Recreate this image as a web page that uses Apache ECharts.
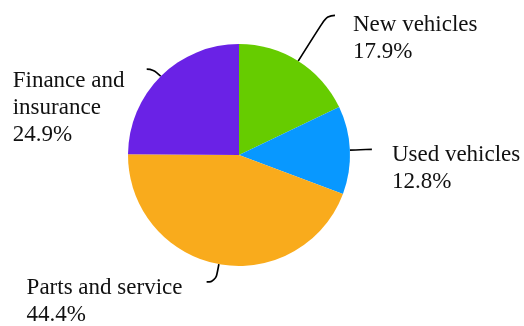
<!DOCTYPE html>
<html>
<head>
    <meta charset="utf-8">
    <script src="https://cdn.jsdelivr.net/npm/echarts@6/dist/echarts.min.js"></script>
    <style>
        html, body { margin: 0; padding: 0; background: #fff; }
        #main { width: 524px; height: 326px; }
    </style>
</head>
<body>
<div id="main"></div>
<script>
    // 数据
    var categories = ['New vehicles', 'Used vehicles', 'Parts and service', 'Finance and\ninsurance'];
    var shares = [17.9, 12.8, 44.4, 24.9];
    var colors = ['#66cc00', '#0898ff', '#f9ab1c', '#6a22e6'];

    // 每块标签线长度、文字距离、文字宽度（左侧标签左对齐用）、上下微调
    var lineLen = [[54, 8], [16, 6], [18, 9], [10, 7]];
    var labelGap = [18, 20, 22, 18];
    var textWidth = [130, 140, 158, 116];
    var labelShift = [-4, -8, -7, -2];

    var myChart = echarts.init(document.getElementById('main'));

    var seriesData = categories.map(function (name, i) {
        return {
            name: name,
            value: shares[i],
            itemStyle: { color: colors[i] },
            labelLine: { length: lineLen[i][0], length2: lineLen[i][1] },
            label: {
                distanceToLabelLine: labelGap[i],
                rich: { t: { width: textWidth[i], align: 'left' } }
            }
        };
    });

    var option = {
        animation: false,
        series: [{
            type: 'pie',
            center: [239, 155],
            radius: 111,
            startAngle: 90,
            clockwise: true,
            avoidLabelOverlap: false,
            data: seriesData,
            label: {
                show: true,
                position: 'outside',
                fontFamily: 'Liberation Serif',
                fontSize: 23,
                lineHeight: 27,
                color: '#111',
                formatter: function (p) {
                    var lines = p.name.split('\n').concat([p.value.toFixed(1) + '%']);
                    return lines.map(function (l) { return '{t|' + l + '}'; }).join('\n');
                },
                rich: {
                    t: {
                        fontFamily: 'Liberation Serif',
                        fontSize: 23,
                        lineHeight: 27,
                        color: '#111'
                    }
                }
            },
            // 第一行文字对齐标签线末端，标签线保持不变
            labelLayout: function (params) {
                return {
                    verticalAlign: 'top',
                    dy: labelShift[params.dataIndex],
                    labelLinePoints: params.labelLinePoints
                };
            },
            labelLine: {
                show: true,
                smooth: 0.5,
                lineStyle: { color: '#000', width: 1.7 }
            },
            emphasis: { disabled: true }
        }]
    };
    myChart.setOption(option);
</script>
</body>
</html>
